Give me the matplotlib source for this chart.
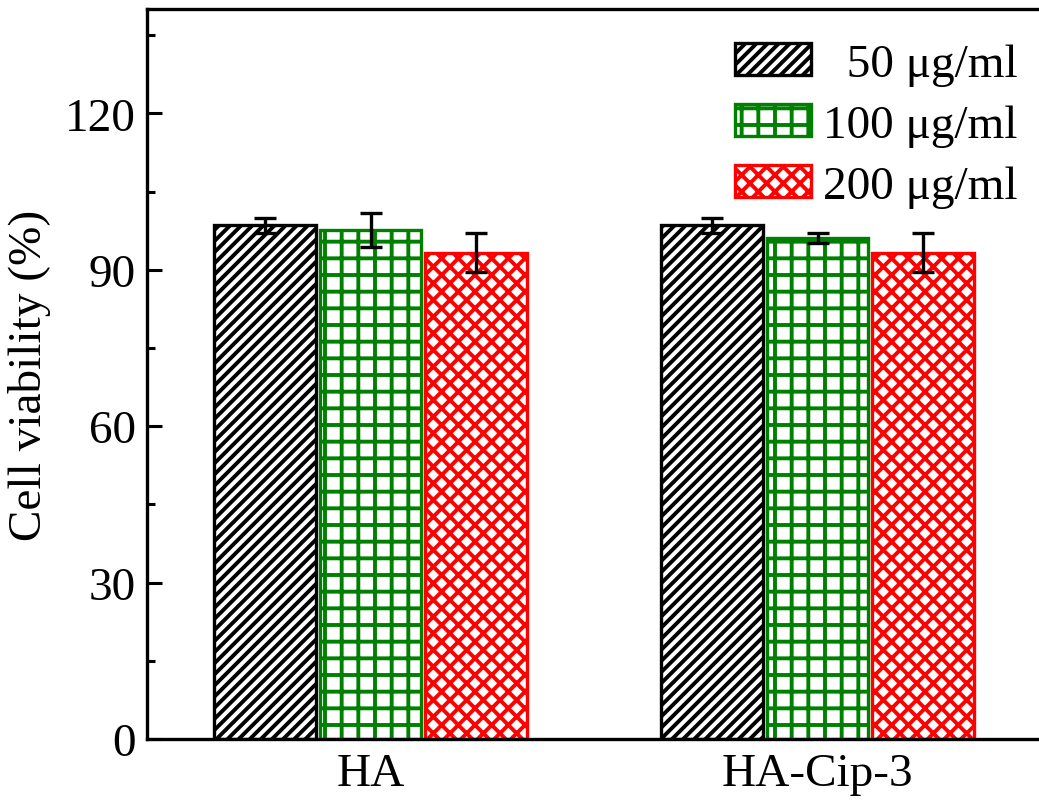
import numpy as np
from matplotlib import pyplot as plt
from matplotlib.ticker import MultipleLocator

plt.rcParams['font.family'] = ['Liberation Serif', 'DejaVu Serif']
plt.rcParams['hatch.linewidth'] = 2.8

# data
groups = ["HA", "HA-Cip-3"]
labels = ["  50 \u03bcg/ml", "100 \u03bcg/ml", "200 \u03bcg/ml"]
v50 = [98.5, 98.5]
e50 = [1.5, 1.5]
v100 = [97.6, 96.1]
e100 = [3.3, 0.9]
v200 = [93.3, 93.3]
e200 = [3.7, 3.7]

colors = ["black", "#008000", "#ff0000"]
hatches = ["///", "+", "xx"]

fig = plt.figure(figsize=(10.39, 8.03), dpi=100)
ax = fig.add_axes([147/1039, 1 - 740/803, 894/1039, 730/803])

x = np.arange(len(groups))
w = 0.228
offs = [-0.236, 0, 0.236]
vals = [v50, v100, v200]
errs = [e50, e100, e200]
for i in range(3):
    ax.bar(x + offs[i], vals[i], w, color="white", edgecolor=colors[i],
           hatch=hatches[i], linewidth=2.4, label=labels[i], zorder=2)
    ax.errorbar(x + offs[i], vals[i], yerr=errs[i], fmt="none", ecolor="black",
                elinewidth=2.4, capsize=8, capthick=2.4, zorder=3)

ax.set_xlim(-0.5, 1.5)
ax.set_ylim(0, 140)
ax.set_xticks(x)
ax.set_xticklabels(groups)
ax.yaxis.set_major_locator(MultipleLocator(30))
ax.yaxis.set_minor_locator(MultipleLocator(15))
ax.set_yticks([0, 30, 60, 90, 120])
ax.tick_params(axis="x", length=0, labelsize=34, pad=10)
ax.tick_params(axis="y", which="major", direction="in", length=11, width=2.2, labelsize=34, pad=8)
ax.tick_params(axis="y", which="minor", direction="in", length=6, width=2.2)
for s in ax.spines.values():
    s.set_linewidth(2.4)
ax.set_ylabel("Cell viability (%)", fontsize=34, labelpad=10)

ax.legend(loc="upper right", bbox_to_anchor=(0.9955, 0.979), frameon=False,
          fontsize=34, handlelength=1.6, handleheight=0.66, handletextpad=0.27,
          labelspacing=0.39, borderaxespad=0.0, borderpad=0.4)

plt.savefig("out.png", dpi=100)
